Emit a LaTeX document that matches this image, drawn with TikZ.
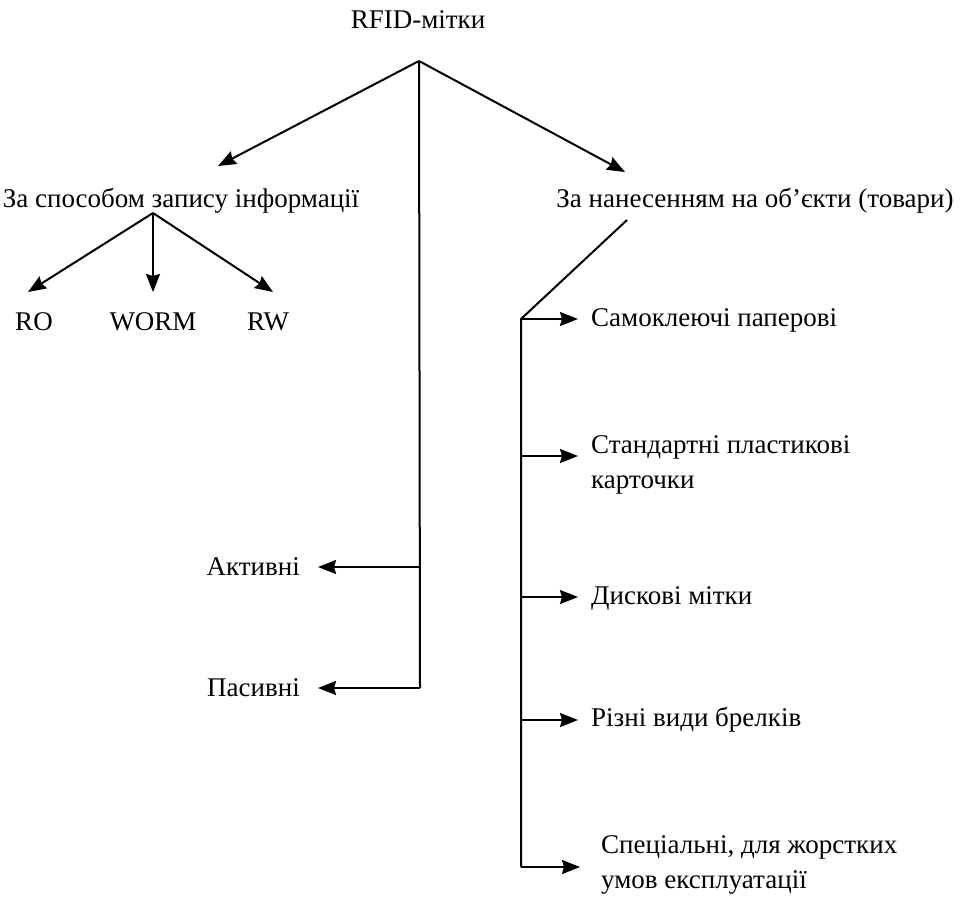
\documentclass[tikz,border=0pt]{standalone}
\usepackage{fontspec}
\setmainfont{Liberation Serif}
\usetikzlibrary{arrows.meta}
\begin{document}
\begin{tikzpicture}[x=1pt,y=-1pt,
  lbl/.style={inner sep=0pt,font=\fontsize{27}{35}\selectfont},
  arr/.style={line width=2pt,-{Stealth[length=18pt,width=14pt,inset=2pt,fill=black]}},
  ln/.style={line width=2pt}]
\useasboundingbox (0,0) rectangle (960,899);
\node[lbl] (root) at (418,20) {RFID-мітки};
\coordinate (apex) at (419,61);
\node[lbl] (sp) at (181,201) {За способом запису інформації};
\node[lbl] (nan) at (755,201) {За нанесенням на об'єкти (товари)};
\coordinate (spa) at (153,213);
\node[lbl] (ro) at (34,322) {RO};
\node[lbl] (worm) at (153,322) {WORM};
\node[lbl] (rw) at (268,322) {RW};
\node[lbl,anchor=east] (akt) at (300,567) {Активні};
\node[lbl,anchor=east] (pas) at (300,688) {Пасивні};
\coordinate (tA) at (420,567);
\coordinate (tP) at (420,688);
% right
\coordinate (d1) at (627,220);
\coordinate (b1) at (521,319);
\coordinate (b2) at (521,456);
\coordinate (b3) at (521,597);
\coordinate (b4) at (521,720);
\coordinate (b5) at (521,867);
\node[lbl,anchor=west] (r1) at (591,320) {Самоклеючі паперові};
\node[lbl,anchor=west,align=left] (r2) at (591,465) {Стандартні пластикові\\карточки};
\node[lbl,anchor=west] (r3) at (591,598) {Дискові мітки};
\node[lbl,anchor=west] (r4) at (591,720) {Різні види брелків};
\node[lbl,anchor=west,align=left] (r5) at (601,865) {Спеціальні, для жорстких\\умов експлуатації};
% connectors
\draw[arr] (apex) -- (218,166);
\draw[arr] (apex) -- (625,172);
\draw[ln] (apex) -- (tP);
\draw[arr] (tA) -- ([xshift=18pt]akt.east);
\draw[arr] (tP) -- ([xshift=18pt]pas.east);
\draw[arr] (spa) -- (28,292);
\draw[arr] (spa) -- (153,292);
\draw[arr] (spa) -- (273,292);
\draw[ln] (d1) -- (b1) -- (b5);
\draw[arr] (b1) -- (578,319);
\draw[arr] (b2) -- (578,456);
\draw[arr] (b3) -- (578,597);
\draw[arr] (b4) -- (578,720);
\draw[arr] (b5) -- (580,867);
\end{tikzpicture}
\end{document}
